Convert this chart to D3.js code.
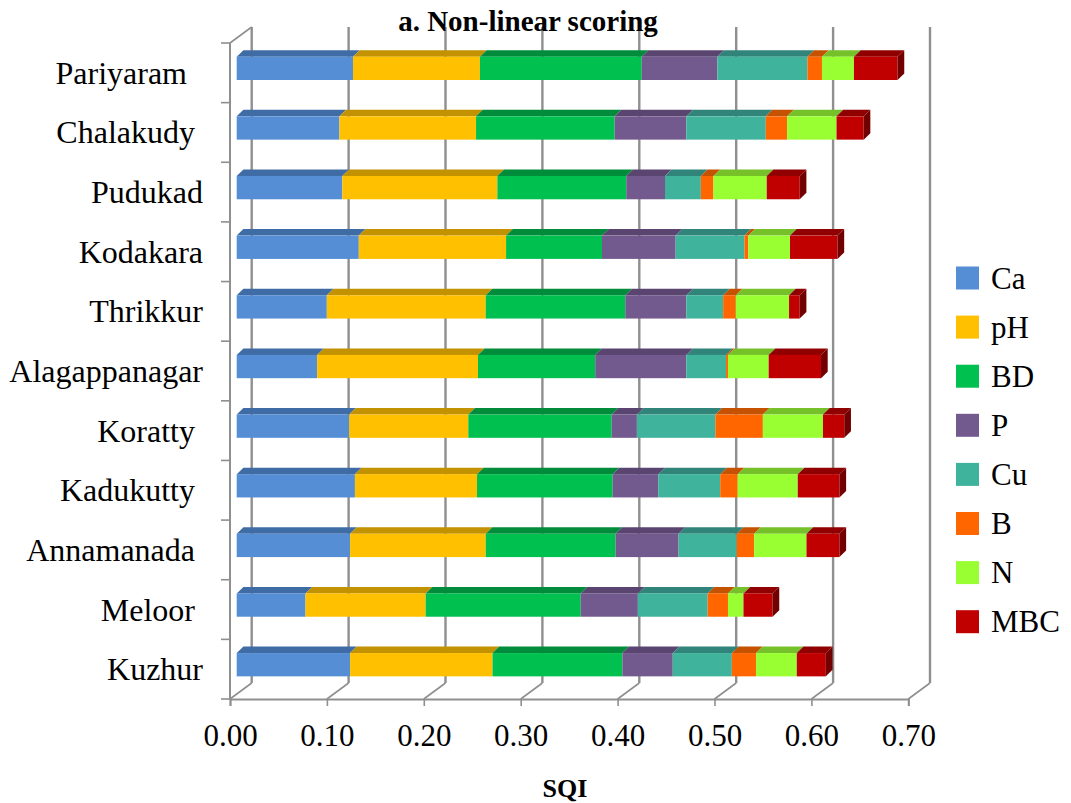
<!DOCTYPE html>
<html>
<head>
<meta charset="utf-8">
<script src="https://cdn.jsdelivr.net/npm/d3@7"></script>
<style>
  body { margin: 0; background: #ffffff; }
  text { font-family: "Liberation Serif", "Times New Roman", serif; fill: #000; white-space: pre; }
</style>
</head>
<body>
<svg id="chart" width="1071" height="803"></svg>
<script>
// Sites, top to bottom (names kept as entered, some with trailing blanks)
const categories = ["Pariyaram  ", "Chalakudy ", "Pudukad", "Kodakara", "Thrikkur", "Alagappanagar",
                    "Koratty ", "Kadukutty ", "Annamanada ", "Meloor ", "Kuzhur"];
const seriesNames = ["Ca", "pH", "BD", "P", "Cu", "B", "N", "MBC"];

// Non-linear scores of each indicator, per site
const Ca  = [0.120, 0.106, 0.109, 0.126, 0.093, 0.083, 0.116, 0.122, 0.117, 0.071, 0.117];
const pH  = [0.131, 0.141, 0.160, 0.152, 0.164, 0.166, 0.123, 0.126, 0.140, 0.124, 0.147];
const BD  = [0.167, 0.143, 0.133, 0.099, 0.144, 0.121, 0.148, 0.140, 0.134, 0.160, 0.134];
const P   = [0.078, 0.074, 0.040, 0.076, 0.063, 0.094, 0.026, 0.047, 0.065, 0.059, 0.052];
const Cu  = [0.093, 0.082, 0.037, 0.071, 0.038, 0.041, 0.081, 0.064, 0.060, 0.072, 0.061];
const B   = [0.015, 0.022, 0.013, 0.004, 0.013, 0.002, 0.049, 0.018, 0.018, 0.021, 0.025];
const N   = [0.033, 0.051, 0.055, 0.043, 0.055, 0.042, 0.062, 0.062, 0.054, 0.016, 0.042];
const MBC = [0.045, 0.028, 0.034, 0.049, 0.011, 0.054, 0.022, 0.043, 0.034, 0.030, 0.030];

const xTicks = [0, 0.1, 0.2, 0.3, 0.4, 0.5, 0.6, 0.7];

// Face colours: front, top, side
const frontColors = ["#558ed5", "#ffc000", "#00c050", "#735a8e", "#40b39c", "#ff6600", "#99ff33", "#c00000"];
const topColors   = ["#406ca6", "#c29200", "#008c3b", "#5a4470", "#31847a", "#c45200", "#76c12a", "#900000"];
const sideColor   = "#720000";

const seriesValues = { Ca, pH, BD, P, Cu, B, N, MBC };
const rows = categories.map((c, i) => {
  const r = { site: c };
  seriesNames.forEach(k => { r[k] = seriesValues[k][i]; });
  return r;
});

const svg = d3.select("#chart");

// Oblique 3D geometry
const depthX = 21.7, depthY = -16;      // front plane -> back wall
const barDX = 6.7, barDY = -6.5;        // bar depth
const barShift = 6.7;                   // bar front face offset from front plane

const x = d3.scaleLinear().domain([0, 0.7]).range([230, 230 + 0.7 * 969]);
const y = d3.scaleBand().domain(categories).range([43, 699]).padding(0);
const barTop = 13.7, barH = 23.3;

const gridColor = "#8f8f8f";
const grid = svg.append("g");

// Back wall gridlines with floor diagonals
xTicks.forEach(t => {
  const xb = x(t) + depthX;
  grid.append("line")
    .attr("x1", xb).attr("x2", xb)
    .attr("y1", 43 + depthY).attr("y2", 699 + depthY)
    .attr("stroke", gridColor).attr("stroke-width", 2.4);
  grid.append("line")
    .attr("x1", xb).attr("y1", 699 + depthY)
    .attr("x2", x(t)).attr("y2", 699)
    .attr("stroke", gridColor).attr("stroke-width", 1.6);
});

// Side wall front edge, its top edge, and category tick marks
grid.append("line").attr("x1", 230).attr("x2", 230).attr("y1", 43).attr("y2", 699)
  .attr("stroke", gridColor).attr("stroke-width", 2);
grid.append("line").attr("x1", 230).attr("y1", 43).attr("x2", 230 + depthX).attr("y2", 43 + depthY)
  .attr("stroke", gridColor).attr("stroke-width", 1.6);
categories.concat([null]).forEach(c => {
  const yy = c === null ? y.range()[1] : y(c);
  grid.append("line").attr("x1", 221).attr("x2", 230).attr("y1", yy).attr("y2", yy)
    .attr("stroke", gridColor).attr("stroke-width", 1.6);
});

// Value axis on the floor front edge
const xAxis = d3.axisBottom(x).tickValues(xTicks).tickFormat(d3.format(".2f")).tickSize(7).tickPadding(18);
const axG = svg.append("g").attr("transform", "translate(0,699)").call(xAxis);
axG.select(".domain").attr("stroke", gridColor).attr("stroke-width", 2);
axG.selectAll(".tick line").attr("stroke", gridColor).attr("stroke-width", 1.6);
axG.selectAll(".tick text")
  .style("font-family", '"Liberation Serif", "Times New Roman", serif')
  .style("font-size", "31px").attr("fill", "#000");

// Stacked 3D bars
const stacked = d3.stack().keys(seriesNames)(rows);
const bars = svg.append("g");
stacked.forEach((layer, si) => {
  const g = bars.append("g");
  layer.forEach((seg, ci) => {
    const site = categories[ci];
    const x0 = x(seg[0]) + barShift, x1 = x(seg[1]) + barShift;
    const yt = y(site) + barTop;
    // top face
    g.append("path")
      .attr("d", `M${x0},${yt}L${x1},${yt}L${x1 + barDX},${yt + barDY}L${x0 + barDX},${yt + barDY}Z`)
      .attr("fill", topColors[si]);
    // front face
    g.append("rect")
      .attr("x", x0).attr("y", yt)
      .attr("width", Math.max(0, x1 - x0)).attr("height", barH)
      .attr("fill", frontColors[si]);
    // right end face on the last series
    if (si === seriesNames.length - 1) {
      g.append("path")
        .attr("d", `M${x1},${yt}L${x1 + barDX},${yt + barDY}L${x1 + barDX},${yt + barH + barDY}L${x1},${yt + barH}Z`)
        .attr("fill", sideColor);
    }
  });
});

// Category labels
svg.append("g").selectAll("text").data(categories).join("text")
  .attr("x", 203)
  .attr("y", d => y(d) + y.bandwidth() / 2)
  .attr("text-anchor", "end")
  .attr("dominant-baseline", "central")
  .style("font-size", "32px")
  .text(d => d);

// Title and axis title
svg.append("text").attr("x", 528).attr("y", 31).attr("text-anchor", "middle")
  .style("font-size", "29px").style("font-weight", "bold").text("a. Non-linear scoring");
svg.append("text").attr("x", 565).attr("y", 797).attr("text-anchor", "middle")
  .style("font-size", "26px").style("font-weight", "bold").text("SQI");

// Legend
const legend = svg.append("g");
seriesNames.forEach((name, i) => {
  const cy = 278 + i * 49.1;
  legend.append("rect").attr("x", 956).attr("y", cy - 11.5).attr("width", 23).attr("height", 23)
    .attr("fill", frontColors[i]);
  legend.append("text").attr("x", 991).attr("y", cy).attr("dominant-baseline", "central")
    .style("font-size", "31px").text(name);
});
</script>
</body>
</html>
